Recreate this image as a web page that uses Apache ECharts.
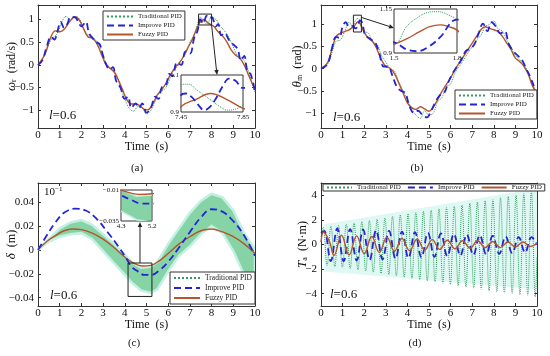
<!DOCTYPE html>
<html><head><meta charset="utf-8">
<script src="https://cdn.jsdelivr.net/npm/echarts@6/dist/echarts.min.js"></script>
<style>html,body{margin:0;padding:0;background:#fff}#c{width:550px;height:356px}</style>
</head><body><div id="c"></div>
<script>
// ---------- DATA ----------
const seriesNames = ['Traditional PID', 'Improve PID', 'Fuzzy PID'];
const ticksX = [0,1,2,3,4,5,6,7,8,9,10];
const ticksYA = [-1,-0.5,0,0.5,1];
const ticksYB = [-1,-0.5,0,0.5,1];
const ticksYC = [-0.04,-0.02,0,0.02,0.04];
const ticksYD = [-4,-2,0,2,4];
const rangeYA = [-1.39, 1.32];
const rangeYB = [-1.34, 1.44];
const rangeYC = [-0.047, 0.056];
const rangeYD = [-5, 5];
const insetA = {x:[7.45,7.85], y:[0.9,1.1]};
const insetB = {x:[1.5,1.8], y:[0.9,1.15]};
const insetC = {x:[4.3,5.2], y:[-0.035,-0.01]};
const rectA = [[7.4,0.88],[8.0,1.12]];
const rectB = [[1.5,0.83],[1.87,1.21]];
const rectC = [[4.15,-0.011],[5.25,-0.039]];

// (a) omega_r
const tradA = [[0,0],[0.3,0.2],[0.6,0.55],[0.9,0.7],[1.1,0.95],[1.3,1.07],[1.5,0.98],[1.7,1.07],[1.9,1.02],[2.1,0.8],[2.4,0.62],[2.6,0.58],[2.8,0.45],[3.0,0.2],[3.2,0.0],[3.4,-0.1],[3.6,-0.2],[3.8,-0.5],[4.0,-0.75],[4.2,-0.95],[4.4,-1.02],[4.6,-0.92],[4.8,-0.95],[5.0,-1.08],[5.2,-1.0],[5.4,-0.8],[5.6,-0.6],[5.8,-0.55],[6.0,-0.4],[6.2,-0.15],[6.4,-0.05],[6.6,0.1],[6.8,0.25],[7.0,0.5],[7.2,0.68],[7.35,0.9],[7.45,1.05],[7.5,1.05],[7.55,1.02],[7.6,0.99],[7.65,0.96],[7.7,0.93],[7.75,0.91],[7.8,0.915],[7.85,0.94],[8.0,1.05],[8.2,1.0],[8.4,0.85],[8.6,0.75],[8.8,0.6],[9.0,0.4],[9.2,0.2],[9.4,0.15],[9.6,0.0],[9.8,-0.3],[10,-0.6]];
const impA = [[0,0],[0.2,0.1],[0.4,0.4],[0.6,0.62],[0.75,0.56],[0.9,0.75],[1.05,0.95],[1.2,0.82],[1.35,0.9],[1.5,1.05],[1.7,1.05],[1.85,0.95],[2.0,0.85],[2.2,0.95],[2.35,0.7],[2.5,0.6],[2.7,0.5],[2.85,0.45],[3.0,0.2],[3.15,0.0],[3.3,-0.1],[3.45,-0.05],[3.6,-0.35],[3.8,-0.5],[4.0,-0.75],[4.15,-0.7],[4.3,-0.95],[4.5,-0.85],[4.65,-0.95],[4.8,-0.85],[5.0,-1.05],[5.2,-0.95],[5.4,-0.7],[5.55,-0.75],[5.7,-0.5],[5.9,-0.45],[6.05,-0.2],[6.2,-0.25],[6.4,0.05],[6.6,0.0],[6.8,0.3],[7.0,0.25],[7.2,0.6],[7.35,0.75],[7.45,0.99],[7.48,1.0],[7.52,0.98],[7.56,0.94],[7.6,0.91],[7.64,0.93],[7.68,0.98],[7.72,1.04],[7.76,1.08],[7.8,1.07],[7.85,1.03],[8.0,1.05],[8.2,0.85],[8.3,0.9],[8.45,0.65],[8.6,0.7],[8.8,0.55],[9.0,0.45],[9.2,0.35],[9.35,0.1],[9.5,0.2],[9.65,-0.15],[9.8,-0.2],[10,-0.6]];
const fuzA = [[0,0],[0.3,0.22],[0.6,0.62],[0.8,0.75],[1.0,0.73],[1.2,0.78],[1.45,0.95],[1.7,1.06],[1.9,0.99],[2.1,0.8],[2.3,0.62],[2.5,0.59],[2.7,0.48],[2.9,0.26],[3.1,0.04],[3.3,-0.07],[3.5,-0.15],[3.7,-0.33],[3.9,-0.55],[4.1,-0.77],[4.3,-0.86],[4.5,-0.86],[4.7,-0.9],[4.9,-0.98],[5.05,-0.99],[5.3,-0.85],[5.5,-0.66],[5.7,-0.55],[5.9,-0.4],[6.1,-0.22],[6.3,-0.07],[6.5,0.04],[6.7,0.18],[6.9,0.37],[7.1,0.55],[7.3,0.78],[7.45,0.93],[7.55,0.97],[7.64,1.0],[7.74,0.97],[7.85,0.92],[8.1,0.85],[8.3,0.73],[8.5,0.64],[8.7,0.51],[8.9,0.33],[9.1,0.22],[9.3,0.15],[9.5,0.0],[9.7,-0.22],[9.9,-0.44],[10,-0.55]];

// (b) theta_m
const tradB = [[0,0],[0.3,0.1],[0.5,0.35],[0.7,0.62],[0.9,0.65],[1.1,0.85],[1.3,1.05],[1.42,0.98],[1.5,0.95],[1.56,1.05],[1.61,1.1],[1.66,1.13],[1.71,1.135],[1.77,1.11],[1.8,1.09],[2.0,0.85],[2.2,0.8],[2.4,0.6],[2.6,0.55],[2.8,0.3],[3.0,0.15],[3.2,0.0],[3.4,-0.05],[3.6,-0.3],[3.8,-0.5],[4.0,-0.7],[4.2,-0.9],[4.4,-1.05],[4.6,-1.12],[4.8,-0.95],[5.0,-1.05],[5.2,-1.0],[5.4,-0.75],[5.6,-0.65],[5.8,-0.4],[6.0,-0.35],[6.2,-0.1],[6.4,0.05],[6.6,0.2],[6.8,0.35],[7.0,0.5],[7.2,0.65],[7.4,0.75],[7.6,0.95],[7.8,1.0],[8.0,1.08],[8.2,0.9],[8.4,0.85],[8.6,0.65],[8.8,0.5],[9.0,0.3],[9.2,0.2],[9.4,0.1],[9.6,-0.1],[9.8,-0.35],[10,-0.55]];
const impB = [[0,0],[0.3,0.1],[0.5,0.45],[0.7,0.72],[0.85,0.7],[1.0,0.95],[1.15,1.05],[1.3,0.95],[1.4,0.97],[1.5,0.96],[1.56,0.92],[1.61,0.91],[1.67,0.94],[1.72,0.99],[1.8,1.09],[1.9,1.05],[2.05,0.75],[2.2,0.7],[2.35,0.65],[2.5,0.6],[2.7,0.35],[2.9,0.05],[3.1,0.05],[3.3,-0.15],[3.5,-0.4],[3.7,-0.5],[3.9,-0.55],[4.1,-0.85],[4.3,-1.0],[4.5,-0.95],[4.7,-1.05],[4.9,-1.1],[5.1,-0.95],[5.3,-0.75],[5.5,-0.6],[5.7,-0.55],[5.9,-0.3],[6.1,-0.1],[6.3,0.05],[6.5,0.2],[6.7,0.4],[6.9,0.45],[7.1,0.55],[7.3,0.8],[7.5,1.02],[7.7,0.85],[7.9,1.05],[8.1,0.95],[8.3,0.8],[8.5,0.85],[8.7,0.55],[8.9,0.4],[9.1,0.3],[9.3,0.2],[9.5,0.0],[9.7,-0.2],[9.9,-0.45],[10,-0.55]];
const fuzB = [[0,0],[0.3,0.13],[0.5,0.43],[0.7,0.73],[0.9,0.8],[1.1,0.84],[1.3,0.88],[1.5,0.95],[1.56,0.98],[1.62,1.02],[1.67,1.05],[1.72,1.06],[1.76,1.05],[1.8,1.03],[2.0,0.82],[2.2,0.69],[2.4,0.61],[2.6,0.43],[2.8,0.2],[3.0,0.05],[3.2,0.01],[3.4,-0.11],[3.6,-0.32],[3.8,-0.55],[4.0,-0.77],[4.2,-0.88],[4.4,-0.92],[4.6,-0.86],[4.8,-0.91],[5.0,-0.96],[5.2,-0.86],[5.4,-0.7],[5.6,-0.51],[5.8,-0.36],[6.0,-0.21],[6.2,-0.02],[6.4,0.13],[6.6,0.28],[6.8,0.43],[7.0,0.58],[7.2,0.73],[7.4,0.88],[7.6,0.95],[7.8,0.91],[8.0,0.88],[8.2,0.84],[8.4,0.73],[8.6,0.58],[8.8,0.43],[9.0,0.24],[9.2,0.16],[9.4,0.05],[9.6,-0.13],[9.8,-0.4],[10,-0.55]];

// (c) delta
const bandUpperC = [[0,0],[0.5,0.009],[1,0.018],[1.5,0.023],[2,0.025],[2.5,0.021],[3,0.013],[3.5,0.005],[4,-0.004],[4.3,-0.010],[4.75,-0.015],[5.2,-0.014],[5.5,-0.010],[6,0.005],[6.5,0.018],[7,0.031],[7.5,0.041],[8,0.047],[8.5,0.044],[9,0.033],[9.5,0.014],[10,0.001]];
const bandLowerC = [[0,0],[0.5,0.007],[1,0.011],[1.5,0.013],[2,0.014],[2.5,0.009],[3,-0.001],[3.5,-0.011],[4,-0.021],[4.3,-0.027],[4.75,-0.034],[5.2,-0.036],[5.5,-0.033],[6,-0.018],[6.5,-0.005],[7,0.003],[7.5,0.013],[8,0.020],[8.5,0.014],[9,-0.001],[9.5,-0.021],[10,-0.029]];
const impC = [[0,0],[0.4,0.012],[0.8,0.023],[1.2,0.031],[1.7,0.0345],[2.2,0.033],[2.7,0.026],[3.2,0.015],[3.7,0.003],[4.1,-0.008],[4.3,-0.014],[4.6,-0.018],[4.9,-0.021],[5.2,-0.021],[5.6,-0.017],[6.0,-0.01],[6.5,0.002],[7.0,0.015],[7.5,0.027],[8.0,0.034],[8.5,0.032],[9.0,0.024],[9.5,0.012],[10,-0.005]];
const fuzC = [[0,0],[0.4,0.007],[0.8,0.012],[1.2,0.016],[1.6,0.0175],[2.0,0.017],[2.5,0.014],[3.0,0.009],[3.5,0.002],[4.0,-0.006],[4.4,-0.011],[4.8,-0.0135],[5.2,-0.013],[5.6,-0.009],[6.0,-0.003],[6.5,0.005],[7.0,0.011],[7.5,0.016],[8.0,0.0175],[8.5,0.015],[9.0,0.011],[9.5,0.005],[10,-0.003]];

// (d) T_a
const cyanUpperD = [[0.15,1.65],[10,4.55]];
const cyanLowerD = [[0.15,-2.2],[10,-3.65]];
const tradD = [[0,0.6],[0.10,1.4],[0.28,-1.7],[0.46,1.5],[0.64,-1.8],[0.81,1.55],[0.99,-1.85],[1.17,1.65],[1.35,-1.95],[1.53,1.75],[1.71,-2.05],[1.89,1.85],[2.07,-2.15],[2.24,1.95],[2.42,-2.25],[2.60,2.05],[2.78,-2.35],[2.96,2.15],[3.14,-2.45],[3.31,2.3],[3.49,-2.55],[3.67,2.4],[3.85,-2.65],[4.03,2.5],[4.21,-2.75],[4.39,2.6],[4.57,-2.85],[4.74,2.7],[4.92,-2.95],[5.10,2.8],[5.28,-3.05],[5.46,2.9],[5.64,-3.15],[5.81,3.0],[5.99,-3.25],[6.17,3.1],[6.35,-3.35],[6.53,3.2],[6.71,-3.45],[6.89,3.35],[7.07,-3.55],[7.24,3.45],[7.42,-3.65],[7.60,3.55],[7.78,-3.75],[7.96,3.65],[8.14,-3.85],[8.31,3.8],[8.49,-3.95],[8.67,3.9],[8.85,-4.0],[9.03,4.0],[9.21,-4.1],[9.39,4.15],[9.57,-4.15],[9.74,4.3],[9.92,-4.25],[10,-1.0]];
const impD = [[0,0.9],[0.15,1.1],[0.45,-1.35],[0.75,1.3],[1.05,-1.35],[1.35,1.25],[1.65,-1.3],[1.95,1.2],[2.25,-1.25],[2.55,1.15],[2.85,-1.2],[3.15,1.1],[3.45,-1.15],[3.75,1.05],[4.05,-1.1],[4.35,1.0],[4.65,-1.05],[4.95,0.95],[5.25,-1.0],[5.55,0.9],[5.85,-0.95],[6.15,0.85],[6.45,-0.9],[6.75,0.8],[7.05,-0.85],[7.35,0.75],[7.65,-0.8],[7.95,0.7],[8.25,-0.75],[8.55,0.65],[8.85,-0.7],[9.15,0.6],[9.45,-0.65],[9.75,0.6],[10,0.0]];
const fuzD = [[0,0.2],[0.12,1.0],[0.4,0.2],[0.6,-0.9],[0.95,0.75],[1.3,-0.85],[1.65,0.7],[2.0,-0.75],[2.35,0.65],[2.7,-0.65],[3.05,0.6],[3.4,-0.55],[3.75,0.5],[4.1,-0.5],[4.45,0.45],[4.8,-0.45],[5.15,0.4],[5.5,-0.4],[5.85,0.35],[6.2,-0.35],[6.55,0.3],[6.9,-0.3],[7.25,0.3],[7.6,-0.25],[7.95,0.25],[8.3,-0.25],[8.65,0.2],[9.0,-0.2],[9.35,0.2],[9.7,-0.15],[10,0.1]];

// ---------- STYLE ----------
const FONT = 'Liberation Serif';
const C_TRAD = '#2f9e5e', C_IMP = '#2424d6', C_FUZ = '#b4552c', AX = '#333';
const fmt = v => (v < 0 ? '\u2212' : '') + String(Math.abs(+(+v).toFixed(4)));

const chart = echarts.init(document.getElementById('c'), null, {renderer: 'canvas'});

const gridPos = [
  {left:38, top:5, width:217, height:123},
  {left:321, top:5, width:216, height:123},
  {left:38, top:183, width:217, height:123},
  {left:321, top:183, width:216, height:123},
  {left:181, top:75, width:62, height:37},
  {left:394, top:9, width:63, height:44},
  {left:121, top:190, width:31, height:31}
];
const grid = gridPos.map((g, i) => Object.assign({}, g, {
  outerBoundsMode: 'none', containLabel: false,
  show: i >= 4, backgroundColor: '#fff', borderColor: AX, borderWidth: 1, z: i >= 4 ? 10 : 0
}));

function mainX(gi, pos) {
  return {type:'value', gridIndex:gi, position:pos, min:0, max:10, interval:1,
    axisLine:{show:true, onZero:false, lineStyle:{color:AX, width:1}},
    axisTick:{show:true, inside:true, length:3, lineStyle:{color:AX}},
    axisLabel: pos === 'bottom' ? {show:true, margin:2, fontFamily:FONT, fontSize:11, color:'#111', formatter: fmt} : {show:false},
    splitLine:{show:false},
    name: pos === 'bottom' ? 'Time  (s)' : '', nameLocation:'middle', nameGap:13, nameMoveOverlap:false,
    nameTextStyle:{fontFamily:FONT, fontSize:12, color:'#111'}};
}
function mainY(gi, pos, range, ticks, name, gap) {
  return {type:'value', gridIndex:gi, position:pos, min:range[0], max:range[1],
    axisLine:{show:true, onZero:false, lineStyle:{color:AX, width:1}},
    axisTick:{show:true, inside:true, length:3, lineStyle:{color:AX}, customValues:ticks},
    axisLabel: pos === 'left' ? {show:true, margin:4, fontFamily:FONT, fontSize:11, color:'#111', formatter: fmt, customValues:ticks} : {show:false},
    splitLine:{show:false},
    name: pos === 'left' ? name : '', nameLocation:'middle', nameGap:gap, nameMoveOverlap:false,
    nameTextStyle:{fontFamily:FONT, fontSize:12, color:'#111',
      rich:{i:{fontFamily:FONT, fontSize:13, fontStyle:'italic', color:'#111'},
            s:{fontFamily:FONT, fontSize:8, color:'#111', padding:[5,0,0,0]},
            n:{fontFamily:FONT, fontSize:12, color:'#111'}}}};
}
function insetAxis(gi, rng) {
  return {type:'value', gridIndex:gi, min:rng[0], max:rng[1], z:11,
    axisLine:{show:false}, axisTick:{show:false}, splitLine:{show:false},
    axisLabel:{show:true, customValues:rng.slice(), fontFamily:FONT, fontSize:7, margin:2, color:'#111', formatter: fmt}};
}

const xAxis = [
  mainX(0,'bottom'), mainX(1,'bottom'), mainX(2,'bottom'), mainX(3,'bottom'),
  insetAxis(4, insetA.x), insetAxis(5, insetB.x), insetAxis(6, insetC.x),
  mainX(0,'top'), mainX(1,'top'), mainX(2,'top'), mainX(3,'top')
];
const yAxis = [
  mainY(0,'left', rangeYA, ticksYA, '{i|ω}{s|r}{n|  (rad/s)}', 20),
  mainY(1,'left', rangeYB, ticksYB, '{i|θ}{s|m}{n|  (rad)}', 17),
  mainY(2,'left', rangeYC, ticksYC, '{i|δ}{n|  (m)}', 20),
  mainY(3,'left', rangeYD, ticksYD, '{i|T}{s|a}{n|  (N·m)}', 12),
  insetAxis(4, insetA.y), insetAxis(5, insetB.y), insetAxis(6, insetC.y),
  mainY(0,'right', rangeYA, ticksYA, '', 0), mainY(1,'right', rangeYB, ticksYB, '', 0),
  mainY(2,'right', rangeYC, ticksYC, '', 0), mainY(3,'right', rangeYD, ticksYD, '', 0)
];

const STY = {
  trad:{color:C_TRAD, width:1, type:'dotted'},
  imp:{color:C_IMP, width:1.8, type:[7,4]},
  fuz:{color:C_FUZ, width:1.4, type:'solid'}
};
const NAME = {trad:'Traditional PID', imp:'Improve PID', fuz:'Fuzzy PID'};
function line(kind, data, ai, z) {
  return {type:'line', name:NAME[kind], data, xAxisIndex:ai, yAxisIndex:ai, symbol:'none', showSymbol:false,
    smooth:0.4, lineStyle:STY[kind], itemStyle:{color:STY[kind].color}, z, silent:true, clip:true, animation:false};
}
function band(upper, lower, ai, fill, stroke, lw, z) {
  return {type:'custom', name:'band' + ai + z, xAxisIndex:ai, yAxisIndex:ai, z, silent:true, clip:true, animation:false,
    data: upper.map(p => p.slice()),
    renderItem(params, api) {
      if (params.dataIndex !== 0) return null;
      const pts = upper.map(p => api.coord(p)).concat(lower.slice().reverse().map(p => api.coord(p)));
      const cs = params.coordSys;
      return {type:'polygon', shape:{points:pts}, style:{fill, stroke, lineWidth:lw},
        clipPath:{type:'rect', shape:{x:cs.x, y:cs.y, width:cs.width, height:cs.height}}};
    }};
}
function rect(r, ai) {
  return {type:'custom', name:'rect' + ai, xAxisIndex:ai, yAxisIndex:ai, z:5, silent:true, animation:false,
    data:[r[0].concat(r[1])],
    renderItem(params, api) {
      const p1 = api.coord([r[0][0], r[0][1]]), p2 = api.coord([r[1][0], r[1][1]]);
      return {type:'rect', shape:{x:Math.min(p1[0],p2[0]), y:Math.min(p1[1],p2[1]), width:Math.abs(p2[0]-p1[0]), height:Math.abs(p2[1]-p1[1])},
        style:{fill:'none', stroke:'#222', lineWidth:1}};
    }};
}

const series = [
  line('trad', tradA, 0, 2), line('fuz', fuzA, 0, 3), line('imp', impA, 0, 4), rect(rectA, 0),
  line('trad', tradA, 4, 12), line('fuz', fuzA, 4, 13), line('imp', impA, 4, 14),
  line('trad', tradB, 1, 2), line('fuz', fuzB, 1, 3), line('imp', impB, 1, 4), rect(rectB, 1),
  line('trad', tradB, 5, 12), line('fuz', fuzB, 5, 13), line('imp', impB, 5, 14),
  band(bandUpperC, bandLowerC, 2, 'rgba(60,185,110,0.62)', '#c4f0e4', 2.5, 1),
  line('fuz', fuzC, 2, 3), line('imp', impC, 2, 4), rect(rectC, 2),
  band(bandUpperC, bandLowerC, 6, 'rgba(60,185,110,0.62)', '#c4f0e4', 1.5, 11),
  line('fuz', fuzC, 6, 13), line('imp', impC, 6, 14),
  band(cyanUpperD, cyanLowerD, 3, '#e0f8f3', 'none', 0, 1),
  line('trad', tradD, 3, 2), line('imp', impD, 3, 3), line('fuz', fuzD, 3, 4)
];

function legendBox(extra) {
  return Object.assign({data:seriesNames, selectedMode:false, orient:'vertical', itemWidth:26, itemHeight:8, itemGap:2,
    padding:[2,3,2,3], borderColor:'#333', borderWidth:1, borderRadius:0, backgroundColor:'#fff',
    itemStyle:{color:'rgba(0,0,0,0)', borderColor:'rgba(0,0,0,0)', borderWidth:0, opacity:0},
    textStyle:{fontFamily:FONT, fontSize:7, color:'#222'}, z:8}, extra);
}
const legend = [
  legendBox({left:103, top:11}),
  legendBox({left:455, top:90}),
  legendBox({left:170, top:272, textStyle:{fontFamily:FONT, fontSize:7.5, color:'#222'}}),
  legendBox({left:323, top:184, orient:'horizontal', itemWidth:25, itemHeight:6, itemGap:6, padding:[0,3,0,3],
    textStyle:{fontFamily:FONT, fontSize:7, color:'#222'}})
];

chart.setOption({animation:false, grid, xAxis, yAxis, series, legend});

// ---------- annotations ----------
function arrow(x1, y1, x2, y2) {
  const ang = Math.atan2(y2 - y1, x2 - x1), L = 5, W = 2.2;
  const bx = x2 - L * Math.cos(ang), by = y2 - L * Math.sin(ang);
  const nx = -Math.sin(ang) * W, ny = Math.cos(ang) * W;
  return [
    {type:'line', shape:{x1, y1, x2:bx, y2:by}, style:{stroke:'#222', lineWidth:1}, z:20},
    {type:'polygon', shape:{points:[[x2,y2],[bx+nx,by+ny],[bx-nx,by-ny]]}, style:{fill:'#222'}, z:20}
  ];
}
const px = (ai, v) => chart.convertToPixel({xAxisIndex:ai, yAxisIndex:ai}, v);
const aS = px(0, [rectA[1][0], rectA[0][1]]);
const gA = gridPos[4], gB = gridPos[5], gC = gridPos[6];
const bS = px(1, [rectB[1][0], rectB[1][1] - 0.05]);
const cS = px(2, [(rectC[0][0] + rectC[1][0]) / 2, rectC[0][1]]);

function txt(x, y, text, size, align, rich) {
  return {type:'text', x, y, z:20, style:{text, fontFamily:FONT, fontSize:size, fill:'#111', align:align||'left', verticalAlign:'middle', rich}};
}
const richL = {i:{fontFamily:FONT, fontSize:13, fontStyle:'italic', fill:'#111'}, n:{fontFamily:FONT, fontSize:13, fill:'#111'}};
const graphic = [
  ...arrow(aS[0], aS[1], gA.left + 36, gA.top),
  ...arrow(bS[0], bS[1], gB.left, gB.top + 19),
  ...arrow(cS[0], cS[1], cS[0], gC.top + gC.height + 1),
  txt(49, 116, '{i|l}{n|=0.6}', 13, 'left', richL),
  txt(333, 118, '{i|l}{n|=0.6}', 13, 'left', richL),
  txt(50, 296, '{i|l}{n|=0.6}', 13, 'left', richL),
  txt(330, 295, '{i|l}{n|=0.6}', 13, 'left', richL),
  txt(44, 192, '{n|10}{s|\u22121}', 11, 'left', {n:{fontFamily:FONT, fontSize:11, fill:'#111'}, s:{fontFamily:FONT, fontSize:7, fill:'#111', padding:[0,0,6,0]}}),
  txt(137, 168, '(a)', 11, 'center'),
  txt(417, 168, '(b)', 11, 'center'),
  txt(134, 343, '(c)', 11, 'center'),
  txt(415, 343, '(d)', 11, 'center')
];
chart.setOption({graphic});
</script></body></html>
